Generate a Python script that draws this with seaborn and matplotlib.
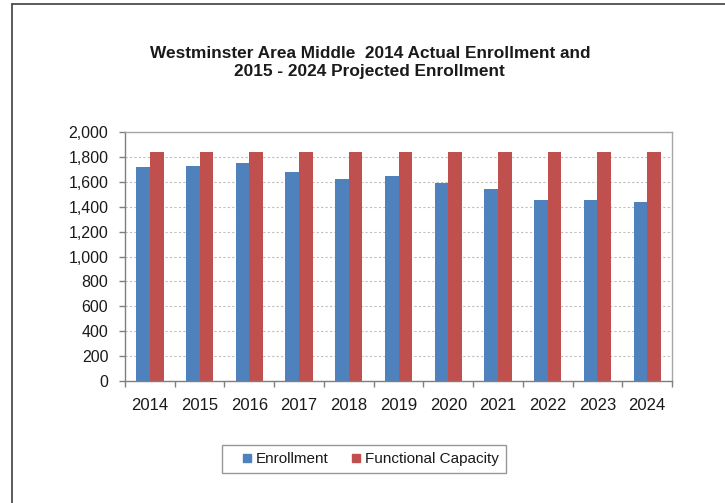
import matplotlib
matplotlib.use("Agg")
import matplotlib.pyplot as plt
import matplotlib.lines as mlines
import pandas as pd
import seaborn as sns
from matplotlib.ticker import FuncFormatter, FixedLocator

years = ["2014", "2015", "2016", "2017", "2018", "2019", "2020", "2021", "2022", "2023", "2024"]
enrollment = [1716, 1730, 1748, 1676, 1625, 1647, 1588, 1545, 1451, 1451, 1435]
capacity = [1838, 1838, 1838, 1838, 1838, 1838, 1838, 1838, 1838, 1838, 1838]
series_names = ["Enrollment", "Functional Capacity"]
colors = ["#4F81BD", "#C0504D"]

df = pd.DataFrame({
    "year": years * 2,
    "value": enrollment + capacity,
    "series": [series_names[0]] * len(years) + [series_names[1]] * len(years),
})

sns.set_style("white")
plt.rcParams["font.family"] = ["Liberation Sans", "DejaVu Sans"]

fig = plt.figure(figsize=(7.25, 5.03), dpi=100)
ax = fig.add_axes([0.1724, 0.2425, 0.7546, 0.4951])

sns.barplot(data=df, x="year", y="value", hue="series", palette=colors,
            width=0.55, saturation=1, linewidth=0, edgecolor="none", ax=ax, legend=True)

ax.set_ylim(0, 2000)
ax.set_xlim(-0.5, len(years) - 0.5)
ax.set_yticks(range(0, 2001, 200))
ax.yaxis.set_major_formatter(FuncFormatter(lambda v, p: f"{int(v):,}"))
ax.grid(axis="y", color="#BFBFBF", linestyle=(0, (2, 2)), linewidth=0.8)
ax.set_axisbelow(True)
ax.set_xlabel("")
ax.set_ylabel("")

for side in ["left", "bottom"]:
    ax.spines[side].set_color("#7F7F7F")
    ax.spines[side].set_linewidth(1.0)
for side in ["top", "right"]:
    ax.spines[side].set_visible(True)
    ax.spines[side].set_color("#A6A6A6")
    ax.spines[side].set_linewidth(1.0)

ax.tick_params(axis="y", which="major", direction="out", length=4, width=1,
               color="#7F7F7F", labelsize=11.5, pad=8, left=True, labelcolor="#1A1A1A")
ax.tick_params(axis="x", which="major", length=0, labelsize=12, pad=12, labelcolor="#1A1A1A")
ax.xaxis.set_minor_locator(FixedLocator([i + 0.5 for i in range(-1, len(years))]))
ax.tick_params(axis="x", which="minor", direction="out", length=4, width=1,
               color="#7F7F7F", bottom=True)

fig.text(0.51, 0.876, "Westminster Area Middle  2014 Actual Enrollment and\n2015 - 2024 Projected Enrollment",
         ha="center", va="center", fontsize=12.4, fontweight="bold", linespacing=1.28,
         color="#1A1A1A")

handles = [mlines.Line2D([], [], marker="s", linestyle="none", markersize=5.5,
                         markerfacecolor=c, markeredgecolor=c) for c in colors]
ax.legend_.remove()
leg = fig.legend(handles, series_names, loc="center", bbox_to_anchor=(0.502, 0.0875),
                 ncol=2, frameon=True, fancybox=False, fontsize=11,
                 handletextpad=-0.63, columnspacing=0.62, borderpad=0.45, handlelength=2.4)
leg.get_frame().set_edgecolor("#7F7F7F")
leg.get_frame().set_linewidth(1.0)
for t in leg.get_texts():
    t.set_color("#1A1A1A")

# outer chart frame (left and top edges visible in the reference)
fig.add_artist(mlines.Line2D([0.017, 0.017], [0.0, 0.992], color="#404040", linewidth=1.2,
                             transform=fig.transFigure))
fig.add_artist(mlines.Line2D([0.017, 1.0], [0.992, 0.992], color="#404040", linewidth=1.2,
                             transform=fig.transFigure))

fig.savefig("out.png", dpi=100)
